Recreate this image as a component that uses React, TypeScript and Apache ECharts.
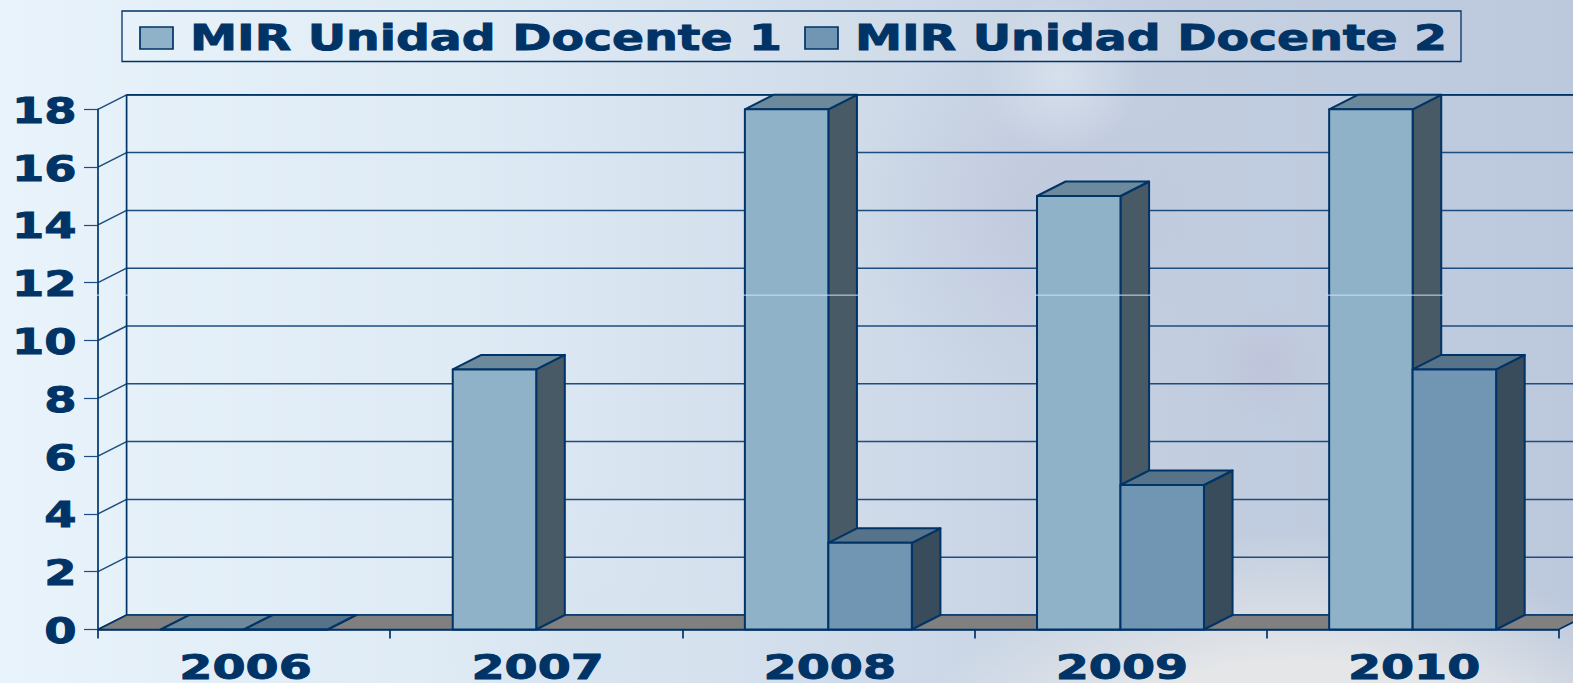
import React, { useEffect, useRef } from "react";
import * as echarts from "echarts";

const categories = ["2006", "2007", "2008", "2009", "2010"];
const seriesNames = ["MIR Unidad Docente 1", "MIR Unidad Docente 2"];
const docente1 = [0, 9, 18, 15, 18];
const docente2 = [0, null, 3, 5, 9];
const yTicks = [0, 2, 4, 6, 8, 10, 12, 14, 16, 18];
const SEAM_LEVEL = 11.57;

const NAVY = "#003366";
const GRID = "#1d4d7e";
const FRONT = ["#8fb2c9", "#7096b4"];
const SIDE = ["#475a66", "#384c5c"];
const TOP = ["#6c8a9c", "#567389"];
const DX = 28.6;
const DY = 14.5;
const FONT = '"DejaVu Sans", Verdana, sans-serif';

const blob = (cx: number, cy: number, r: number, color: string, solid = 0) => ({
  type: "rect",
  silent: true,
  z: -10,
  shape: { x: 0, y: 0, width: 1573, height: 683 },
  style: {
    fill: {
      type: "radial",
      x: cx,
      y: cy,
      r,
      global: true,
      colorStops: [
        { offset: 0, color },
        { offset: solid, color },
        { offset: 1, color: color.replace(/[\d.]+\)$/, "0)") },
      ],
    },
  },
});

const stretchedText = (text: string, x: number, y: number, fontSize: number, scaleX: number, align = "left") => ({
  type: "text",
  x,
  y,
  scaleX,
  style: {
    text,
    fontSize,
    fontWeight: "bold",
    fontFamily: FONT,
    fill: NAVY,
    stroke: NAVY,
    lineWidth: 0.9,
    align,
    verticalAlign: "middle",
  },
});

function barSeries(index: number, values: (number | null)[]) {
  return {
    type: "custom",
    name: seriesNames[index],
    clip: false,
    z: 5 + index,
    data: values.map((v, i) => [i, v === null ? "-" : v]),
    renderItem: (_p: any, api: any) => {
      const value = api.value(1);
      if (value === null || isNaN(value)) return null;
      const cat = api.value(0);
      const [x0, y0] = api.coord([cat, 0]);
      const [, y1] = api.coord([cat, value]);
      const band = api.size([1, 0])[0];
      const w = band / 3.5;
      const left = x0 - w + index * w;
      const right = left + w;
      const lineStyle = { stroke: NAVY, lineWidth: 2, lineJoin: "round" };
      return {
        type: "group",
        children: [
          {
            type: "polygon",
            shape: { points: [[right, y1], [right + DX, y1 - DY], [right + DX, y0 - DY], [right, y0]] },
            style: { fill: SIDE[index], ...lineStyle },
          },
          {
            type: "polygon",
            shape: { points: [[left, y1], [left + DX, y1 - DY], [right + DX, y1 - DY], [right, y1]] },
            style: { fill: TOP[index], ...lineStyle },
          },
          {
            type: "rect",
            shape: { x: left, y: y1, width: w, height: y0 - y1 },
            style: { fill: FRONT[index], ...lineStyle },
          },
        ],
      };
    },
  };
}

export default function App() {
  const ref = useRef<HTMLDivElement>(null);
  useEffect(() => {
    const chart = echarts.init(ref.current!, undefined, { renderer: "svg" });
    chart.setOption({
      animation: false,
      backgroundColor: "#dfe8f2",
      grid: { left: 98, right: 14.3, top: 109.3, bottom: 53.5 },
      xAxis: {
        type: "category",
        data: categories,
        axisLine: { lineStyle: { color: NAVY, width: 1.7 } },
        axisTick: { show: true, length: 9, alignWithLabel: false, lineStyle: { color: NAVY, width: 1.7 } },
        axisLabel: { show: false },
        z: 8,
      },
      yAxis: {
        type: "value",
        min: 0,
        max: 18,
        interval: 2,
        splitLine: { show: false },
        axisLine: { show: true, onZero: false, lineStyle: { color: NAVY, width: 1.7 } },
        axisTick: { show: true, length: 14, lineStyle: { color: GRID, width: 1.2 } },
        axisLabel: { show: false },
        z: 8,
      },
      graphic: [
        {
          type: "rect",
          silent: true,
          z: -11,
          shape: { x: 0, y: 0, width: 1573, height: 683 },
          style: {
            fill: {
              type: "linear",
              x: 0,
              y: 0,
              x2: 1,
              y2: 0,
              colorStops: [
                { offset: 0, color: "#e8f3fb" },
                { offset: 0.3, color: "#deeaf4" },
                { offset: 0.55, color: "#cfdbe9" },
                { offset: 0.75, color: "#c2cee0" },
                { offset: 1, color: "#bcc8dc" },
              ],
            },
          },
        },
        blob(1050, 210, 200, "rgba(190,196,218,0.65)"),
        blob(1265, 365, 60, "rgba(190,185,210,0.45)"),
        blob(1060, 75, 80, "rgba(216,226,238,0.9)"),
        blob(1300, 1050, 520, "rgba(228,230,232,1)", 0.75),
        blob(600, 640, 170, "rgba(214,228,240,0.7)"),
        {
          type: "group",
          z: 20,
          children: [
            {
              type: "rect",
              shape: { x: 122, y: 11, width: 1339, height: 50.5 },
              style: { fill: "rgba(255,255,255,0.07)", stroke: NAVY, lineWidth: 1.3 },
            },
            {
              type: "rect",
              shape: { x: 140, y: 27, width: 33, height: 22 },
              style: { fill: FRONT[0], stroke: NAVY, lineWidth: 1.7 },
            },
            stretchedText(seriesNames[0], 190, 38, 36, 1.315),
            {
              type: "rect",
              shape: { x: 805, y: 27, width: 33, height: 22 },
              style: { fill: FRONT[1], stroke: NAVY, lineWidth: 1.7 },
            },
            stretchedText(seriesNames[1], 855, 38, 36, 1.315),
          ],
        },
      ],
      series: [
        {
          type: "custom",
          name: "grid",
          clip: false,
          z: 1,
          data: yTicks.map((v) => [0, v]),
          renderItem: (_p: any, api: any) => {
            const [cx, y] = api.coord([0, api.value(1)]);
            const x = cx - api.size([1, 0])[0] / 2;
            const lineStyle = { stroke: GRID, lineWidth: 1.5 };
            return {
              type: "group",
              children: [
                { type: "line", shape: { x1: x, y1: y, x2: x + DX, y2: y - DY }, style: lineStyle },
                { type: "line", shape: { x1: x + DX, y1: y - DY, x2: 1600, y2: y - DY }, style: lineStyle },
              ],
            };
          },
        },
        {
          type: "custom",
          name: "floor",
          clip: false,
          z: 2,
          data: [[0, 0]],
          renderItem: (_p: any, api: any) => {
            const [x, y] = api.coord([0, 0]);
            const band = api.size([1, 0])[0];
            const x0 = x - band / 2;
            const x1 = x0 + band * categories.length;
            const [, top] = api.coord([0, 18]);
            return {
              type: "group",
              children: [
                {
                  type: "polygon",
                  shape: { points: [[x0, y], [x0 + DX, y - DY], [x1 + DX, y - DY], [x1, y]] },
                  style: { fill: "#808080", stroke: NAVY, lineWidth: 1.7 },
                },
                {
                  type: "line",
                  shape: { x1: x0 + DX, y1: top - DY, x2: x0 + DX, y2: y - DY },
                  style: { stroke: NAVY, lineWidth: 1.7 },
                },
                {
                  type: "line",
                  shape: { x1: x0 + DX, y1: top - DY, x2: 1600, y2: top - DY },
                  style: { stroke: NAVY, lineWidth: 1.7 },
                },
              ],
            };
          },
        },
        barSeries(0, docente1),
        barSeries(1, docente2),
        {
          type: "custom",
          name: "seam",
          clip: false,
          z: 9,
          data: docente1.map((v, i) => [i, v]),
          renderItem: (_p: any, api: any) => {
            const cat = api.value(0);
            const [cx, y] = api.coord([cat, SEAM_LEVEL]);
            const band = api.size([1, 0])[0];
            const w = band / 3.5;
            const style = { stroke: "#d5e0ec", lineWidth: 1 };
            const children: any[] = [];
            if (api.value(1) > SEAM_LEVEL) {
              children.push({
                type: "line",
                shape: { x1: cx - w - 2, y1: y, x2: cx + DX + 2, y2: y },
                style,
              });
            }
            if (cat === 0) {
              const ax = cx - band / 2;
              children.push(
                { type: "line", shape: { x1: ax - 1.5, y1: y, x2: ax + 1.5, y2: y }, style },
                { type: "line", shape: { x1: ax + DX - 1.5, y1: y, x2: ax + DX + 1.5, y2: y }, style }
              );
            }
            return { type: "group", children };
          },
        },
        {
          type: "custom",
          name: "yLabels",
          clip: false,
          z: 9,
          data: yTicks.map((v) => [0, v]),
          renderItem: (_p: any, api: any) => {
            const [x, y] = api.coord([0, api.value(1)]);
            const band = api.size([1, 0])[0];
            return stretchedText(String(api.value(1)), x - band / 2 - 21.5, y + 1, 36, 1.29, "right");
          },
        },
        {
          type: "custom",
          name: "xLabels",
          clip: false,
          z: 9,
          data: categories.map((_, i) => [i, 0]),
          renderItem: (p: any, api: any) => {
            const [x, y] = api.coord([api.value(0), 0]);
            return stretchedText(categories[p.dataIndex], x + 1.5, y + 37.5, 34, 1.4, "center");
          },
        },
      ],
    });
    return () => chart.dispose();
  }, []);
  return <div ref={ref} style={{ width: 1573, height: 683, position: "absolute", left: 0, top: 0 }} />;
}
